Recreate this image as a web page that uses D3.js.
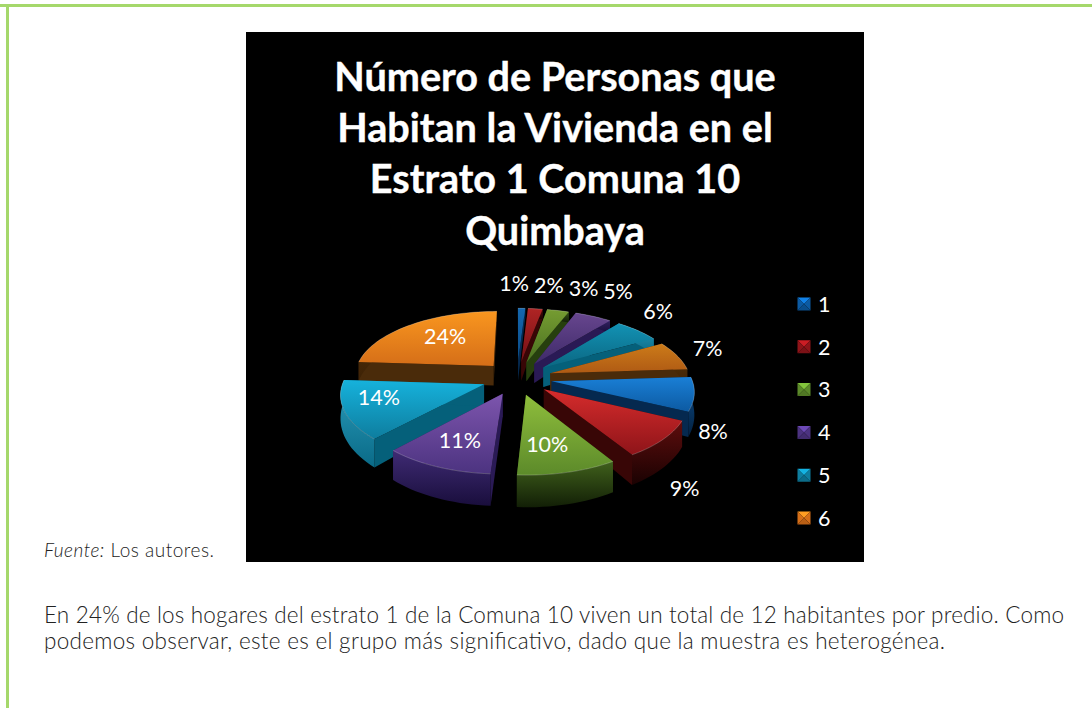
<!DOCTYPE html>
<html><head><meta charset="utf-8">
<script src="https://cdnjs.cloudflare.com/ajax/libs/d3/7.8.5/d3.min.js"></script>
<style>html,body{margin:0;padding:0;background:#fff;overflow:hidden}svg{display:block}</style>
</head><body><svg id="c" width="1092" height="708"></svg>
<script>
const titleLines=["Número de Personas que","Habitan la Vivienda en el","Estrato 1 Comuna 10","Quimbaya"];
const legendLabels=["1","2","3","4","5","6"];
const sliceValues=[1,2,3,5,6,7,8,9,10,11,14,24];
const sliceLabels=["1%","2%","3%","5%","6%","7%","8%","9%","10%","11%","14%","24%"];
const labelRadius=[1.907,1.86,1.85,1.883,1.63,1.436,1.39,1.673,.895,.909,.96,.887];
const labelAngle=[-1.6,8,17.7,27,43,70.6,121.2,145.9,169.4,203.7,253.4,321.1];
const topLight=["#1a7fd6","#d62c2c","#8fbe3c","#7d55ad","#16b2dc","#f9961f"];
const topDark=["#0c5aa2","#8e1419","#5c8a2a","#4c3380","#0e7d9e","#d56e18"];
const wallLight=["#0c4f8e","#5e0d0d","#40601c","#3f2b74","#2a9dbc","#5a3409"];
const wallDark=["#03203f","#1a0202","#121f06","#190e3c","#0a6a87","#3d2206"];
const cutColor=["#05294f","#380606","#263f0e","#2a1a55","#05607a","#4a2b0a"];
const sourceNote=["Fuente:"," Los autores."];
const bodyLines=["En 24% de los hogares del estrato 1 de la Comuna 10 viven un total de 12 habitantes por predio. Como","podemos observar, este es el grupo más significativo, dado que la muestra es heterogénea."];

const svg=d3.select("#c"),defs=svg.append("defs");
const font="Lato, sans-serif";
// page frame
svg.append("rect").attr("x",0).attr("y",4).attr("width",1092).attr("height",3).attr("fill","#a5d86b");
svg.append("rect").attr("x",6).attr("y",4).attr("width",3).attr("height",704).attr("fill","#a5d86b");
svg.append("rect").attr("x",246).attr("y",32).attr("width",618).attr("height",530).attr("fill","#000");
// title
svg.append("g").selectAll("text").data(titleLines).join("text")
 .attr("x",555).attr("y",(d,i)=>91+i*51.2).attr("text-anchor","middle")
 .attr("font-family",font).attr("font-weight",700).attr("font-size",39.6).attr("fill","#fff")
 .attr("stroke","#fff").attr("stroke-width",.4).text(d=>d);

// pseudo-3D pie
const cy=378,a=67,b=9,explode=.25;
const px=d3.scaleLinear().domain([0,1]).range([517,517+140]);
const labelPx=d3.scaleLinear().domain([0,1]).range([520,520+148]);
const proj=(X,Y,z=0,sx=px)=>{
  const s=1+(b/a)*Y;
  return [sx(X*s), cy+a*Y+b*Y*Y+z*(21+9*Y)];
};
const pie=d3.pie().sort(null).value(d=>d).startAngle(0).endAngle(2*Math.PI);
const arcs=pie(sliceValues).map((d,i)=>{
  const mid=(d.startAngle+d.endAngle)/2;
  return {i,mid,start:d.startAngle,end:d.endAngle,c:i%6,ox:explode*Math.sin(mid),oy:-explode*Math.cos(mid)};
});
const line=d3.line();
const rim=(s,z)=>{const n=Math.max(4,Math.ceil((s.end-s.start)/.04));
  return d3.range(n+1).map(k=>{const t=s.start+(s.end-s.start)*k/n;
    return proj(s.ox+Math.sin(t),s.oy-Math.cos(t),z);});};
const tip=(s,z)=>proj(s.ox,s.oy,z);
const grad=(id,c1,c2)=>{const g=defs.append("linearGradient").attr("id",id).attr("x1",0).attr("y1",0).attr("x2",0).attr("y2",1);
  g.append("stop").attr("offset",0).attr("stop-color",c1);g.append("stop").attr("offset",1).attr("stop-color",c2);};
arcs.forEach(s=>{
  const k=s.i<6?.82:1;
  const shade=c=>{const q=d3.rgb(c);return d3.rgb(q.r*k,q.g*k,q.b*k).formatHex();};
  grad("t"+s.i,shade(topLight[s.c]),shade(topDark[s.c]));
  grad("w"+s.i,wallLight[s.c],wallDark[s.c]);
});
const order=arcs.slice().sort((p,q)=>(-Math.cos(p.mid))-(-Math.cos(q.mid)));
const pieG=svg.append("g");
order.forEach(s=>{
  const g=pieG.append("g");
  const top=rim(s,0),bot=rim(s,1);
  const first=[tip(s,0),top[0],bot[0],tip(s,1)];
  const last=[tip(s,0),top[top.length-1],bot[bot.length-1],tip(s,1)];
  g.append("path").attr("d",line(first)+"Z").attr("fill",cutColor[s.c]);
  g.append("path").attr("d",line(last)+"Z").attr("fill",cutColor[s.c]);
  g.append("path").attr("d",line(top.concat(bot.slice().reverse()))+"Z").attr("fill",`url(#w${s.i})`);
  g.append("path").attr("d",line([tip(s,0)].concat(top))+"Z").attr("fill",`url(#t${s.i})`);
  g.append("path").attr("d",line(top)).attr("fill","none").attr("stroke","#fff").attr("stroke-opacity",.22).attr("stroke-width",1);
});
// data labels
const labelPos=i=>{const t=labelAngle[i]*Math.PI/180;return proj(labelRadius[i]*Math.sin(t),-labelRadius[i]*Math.cos(t),0,labelPx);};
svg.append("g").selectAll("text").data(sliceLabels).join("text")
 .attr("x",(d,i)=>labelPos(i)[0]).attr("y",(d,i)=>labelPos(i)[1])
 .attr("dy","0.36em").attr("text-anchor","middle").attr("font-family",font).attr("font-size",21.5).attr("fill","#fff").text(d=>d);

// legend
const ly=d3.scalePoint().domain(legendLabels).range([304,518]);
const lg=svg.append("g").selectAll("g").data(legendLabels).join("g").attr("transform",d=>`translate(804,${ly(d)})`);
const sz=6.5;
const tri=[[[-sz,-sz],[sz,-sz],[0,0]],[[sz,-sz],[sz,sz],[0,0]],[[sz,sz],[-sz,sz],[0,0]],[[-sz,sz],[-sz,-sz],[0,0]]];
tri.forEach((t,j)=>{
  lg.append("path").attr("d",line(t)+"Z").attr("fill",(d,i)=>{
    const c=d3.rgb(topDark[i]);
    return j==0?c.brighter(1).formatHex():j==2?c.darker(.4).formatHex():c.formatHex();});
});
lg.append("text").attr("x",14).attr("dy","0.36em").attr("font-family",font).attr("font-size",21.5).attr("fill","#fff").text(d=>d);

// caption and body
const cap=svg.append("text").attr("x",44).attr("y",557).attr("font-family",font).attr("font-weight",300).attr("font-size",19).attr("fill","#222")
 .attr("textLength",170).attr("lengthAdjust","spacing");
cap.append("tspan").attr("font-style","italic").text(sourceNote[0]);
cap.append("tspan").text(sourceNote[1]);
svg.append("g").selectAll("text").data(bodyLines).join("text")
 .attr("x",44).attr("y",(d,i)=>623+i*26).attr("font-family",font).attr("font-weight",300).attr("font-size",22.5).attr("fill","#222")
 .attr("textLength",(d,i)=>i==0?1020:901).attr("lengthAdjust","spacing").text(d=>d);
</script></body></html>
